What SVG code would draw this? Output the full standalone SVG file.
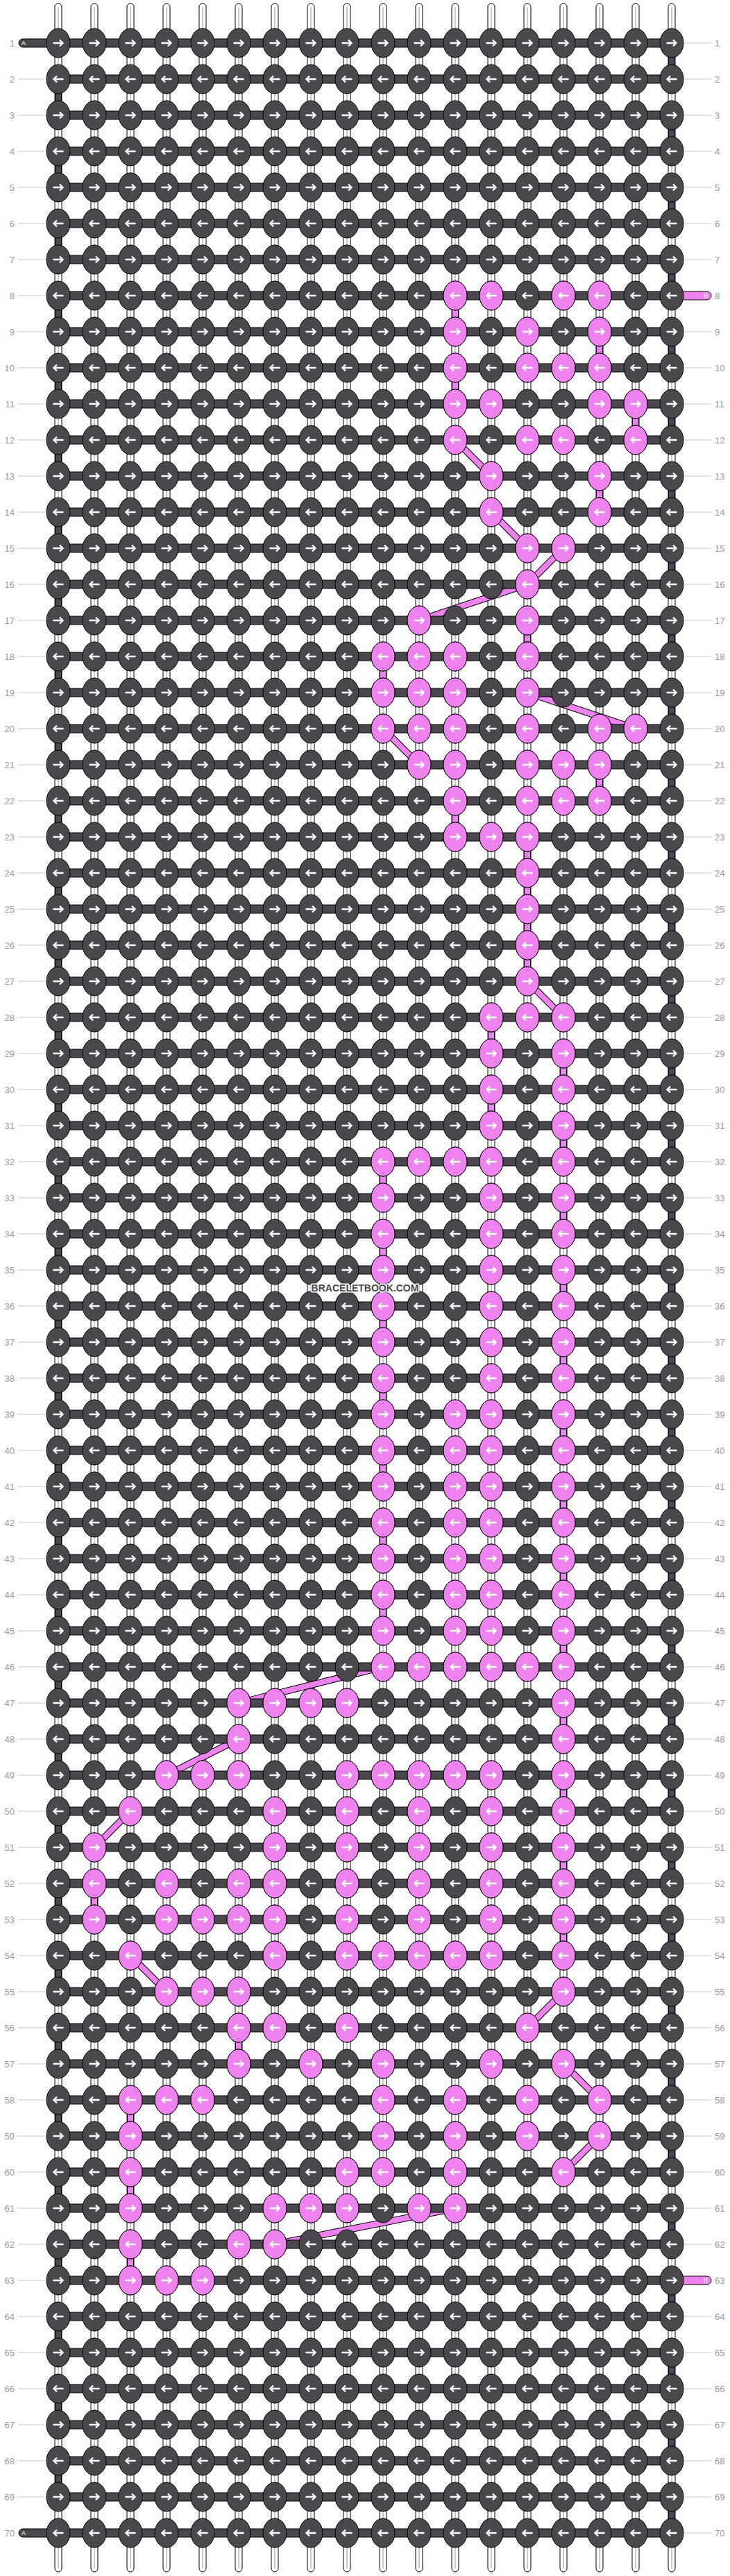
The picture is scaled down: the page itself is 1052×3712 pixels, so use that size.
<svg xmlns="http://www.w3.org/2000/svg" width="1052" height="3712" viewBox="0 0 1052 3712">
<style>
.d{fill:#4b484d;stroke:#000;stroke-width:1}
.p{fill:#ee82ee;stroke:#000;stroke-width:1}
.a{fill:none;stroke:#fff;stroke-width:2.4}
.n{font-family:"Liberation Sans",Arial,sans-serif;font-size:13px;fill:#999}
.ln{fill:none;stroke:#c4c4c4;stroke-width:1}
.t{font-family:"Liberation Sans",Arial,sans-serif;font-size:9px;fill:#fff}
.wm{font-family:"Liberation Sans",Arial,sans-serif;font-weight:bold;font-size:14px;fill:#4a4a4a;stroke:#fff;stroke-width:3;paint-order:stroke;stroke-linejoin:round}
</style>
<defs>
<path id="ar" class="a" d="M-7.5 0H6.5M2 -4.5L6.5 0L2 4.5"/>
<path id="al" class="a" d="M7.5 0H-6.5M-2 -4.5L-6.5 0L-2 4.5"/>
<g id="kr"><ellipse class="d" rx="17" ry="21"/><use href="#ar"/></g>
<g id="kl"><ellipse class="d" rx="17" ry="21"/><use href="#al"/></g>
<g id="pr"><ellipse class="p" rx="17" ry="21"/><use href="#ar"/></g>
<g id="pl"><ellipse class="p" rx="17" ry="21"/><use href="#al"/></g>
<g id="RR"><rect class="d" x="84" y="-6" width="884" height="12"/><use href="#kr" x="84"/><use href="#kr" x="136"/><use href="#kr" x="188"/><use href="#kr" x="240"/><use href="#kr" x="292"/><use href="#kr" x="344"/><use href="#kr" x="396"/><use href="#kr" x="448"/><use href="#kr" x="500"/><use href="#kr" x="552"/><use href="#kr" x="604"/><use href="#kr" x="656"/><use href="#kr" x="708"/><use href="#kr" x="760"/><use href="#kr" x="812"/><use href="#kr" x="864"/><use href="#kr" x="916"/><use href="#kr" x="968"/></g>
<g id="RL"><rect class="d" x="84" y="-6" width="884" height="12"/><use href="#kl" x="84"/><use href="#kl" x="136"/><use href="#kl" x="188"/><use href="#kl" x="240"/><use href="#kl" x="292"/><use href="#kl" x="344"/><use href="#kl" x="396"/><use href="#kl" x="448"/><use href="#kl" x="500"/><use href="#kl" x="552"/><use href="#kl" x="604"/><use href="#kl" x="656"/><use href="#kl" x="708"/><use href="#kl" x="760"/><use href="#kl" x="812"/><use href="#kl" x="864"/><use href="#kl" x="916"/><use href="#kl" x="968"/></g>
<g id="tube"><rect x="-5" y="5" width="10" height="3701" rx="5" fill="#fff" stroke="#000"/><path d="M0 10V3701" stroke="#c8c8c8" stroke-width="2"/></g>
<path id="pv" fill="none" d="M656 426v52M864 478v52M656 530v52M916 582v52M864 686v52M760 894v52M552 946v52M864 1102v52M656 1154v52M760 1206v208M708 1466v52M812 1518v52M708 1570v52M812 1622v52M552 1674v52M812 1726v52M552 1778v52M812 1830v52M552 1882v52M812 1934v52M552 1986v52M812 2038v52M552 2090v52M812 2142v52M552 2194v52M812 2246v52M552 2298v52M812 2350v52M812 2454v52M812 2558v52M812 2662v52M136 2714v52M812 2766v52M344 2922v52M188 3026v52M188 3130v52M188 3234v52"/>
<path id="pd" fill="none" d="M656 634L708 686M708 738L760 790M812 790L760 842M760 842L604 894M760 998L916 1050M552 1050L604 1102M760 1414L812 1466M552 2402L344 2454M344 2506L240 2558M188 2610L136 2662M188 2818L240 2870M812 2870L760 2922M812 2974L864 3026M864 3078L812 3130M656 3182L396 3234"/>
</defs>
<rect width="1052" height="3712" fill="#fff"/>
<g id="label-lines" class="ln">
<path d="M26 114h39M26 166h39M26 218h39M26 270h39M26 322h39M26 374h39M26 426h39M26 478h39M26 530h39M26 582h39M26 634h39M26 686h39M26 738h39M26 790h39M26 842h39M26 894h39M26 946h39M26 998h39M26 1050h39M26 1102h39M26 1154h39M26 1206h39M26 1258h39M26 1310h39M26 1362h39M26 1414h39M26 1466h39M26 1518h39M26 1570h39M26 1622h39M26 1674h39M26 1726h39M26 1778h39M26 1830h39M26 1882h39M26 1934h39M26 1986h39M26 2038h39M26 2090h39M26 2142h39M26 2194h39M26 2246h39M26 2298h39M26 2350h39M26 2402h39M26 2454h39M26 2506h39M26 2558h39M26 2610h39M26 2662h39M26 2714h39M26 2766h39M26 2818h39M26 2870h39M26 2922h39M26 2974h39M26 3026h39M26 3078h39M26 3130h39M26 3182h39M26 3234h39M26 3286h39M26 3338h39M26 3390h39M26 3442h39M26 3494h39M26 3546h39M26 3598h39"/>
<path d="M987 62h38M987 114h38M987 166h38M987 218h38M987 270h38M987 322h38M987 374h38M987 478h38M987 530h38M987 582h38M987 634h38M987 686h38M987 738h38M987 790h38M987 842h38M987 894h38M987 946h38M987 998h38M987 1050h38M987 1102h38M987 1154h38M987 1206h38M987 1258h38M987 1310h38M987 1362h38M987 1414h38M987 1466h38M987 1518h38M987 1570h38M987 1622h38M987 1674h38M987 1726h38M987 1778h38M987 1830h38M987 1882h38M987 1934h38M987 1986h38M987 2038h38M987 2090h38M987 2142h38M987 2194h38M987 2246h38M987 2298h38M987 2350h38M987 2402h38M987 2454h38M987 2506h38M987 2558h38M987 2610h38M987 2662h38M987 2714h38M987 2766h38M987 2818h38M987 2870h38M987 2922h38M987 2974h38M987 3026h38M987 3078h38M987 3130h38M987 3182h38M987 3234h38M987 3338h38M987 3390h38M987 3442h38M987 3494h38M987 3546h38M987 3598h38M987 3650h38"/>
</g>
<g id="labels-left" class="n" text-anchor="end" transform="translate(0 4.5)">
<text x="21" y="62">1</text><text x="21" y="114">2</text><text x="21" y="166">3</text><text x="21" y="218">4</text><text x="21" y="270">5</text><text x="21" y="322">6</text><text x="21" y="374">7</text><text x="21" y="426">8</text><text x="21" y="478">9</text><text x="21" y="530">10</text>
<text x="21" y="582">11</text><text x="21" y="634">12</text><text x="21" y="686">13</text><text x="21" y="738">14</text><text x="21" y="790">15</text><text x="21" y="842">16</text><text x="21" y="894">17</text><text x="21" y="946">18</text><text x="21" y="998">19</text><text x="21" y="1050">20</text>
<text x="21" y="1102">21</text><text x="21" y="1154">22</text><text x="21" y="1206">23</text><text x="21" y="1258">24</text><text x="21" y="1310">25</text><text x="21" y="1362">26</text><text x="21" y="1414">27</text><text x="21" y="1466">28</text><text x="21" y="1518">29</text><text x="21" y="1570">30</text>
<text x="21" y="1622">31</text><text x="21" y="1674">32</text><text x="21" y="1726">33</text><text x="21" y="1778">34</text><text x="21" y="1830">35</text><text x="21" y="1882">36</text><text x="21" y="1934">37</text><text x="21" y="1986">38</text><text x="21" y="2038">39</text><text x="21" y="2090">40</text>
<text x="21" y="2142">41</text><text x="21" y="2194">42</text><text x="21" y="2246">43</text><text x="21" y="2298">44</text><text x="21" y="2350">45</text><text x="21" y="2402">46</text><text x="21" y="2454">47</text><text x="21" y="2506">48</text><text x="21" y="2558">49</text><text x="21" y="2610">50</text>
<text x="21" y="2662">51</text><text x="21" y="2714">52</text><text x="21" y="2766">53</text><text x="21" y="2818">54</text><text x="21" y="2870">55</text><text x="21" y="2922">56</text><text x="21" y="2974">57</text><text x="21" y="3026">58</text><text x="21" y="3078">59</text><text x="21" y="3130">60</text>
<text x="21" y="3182">61</text><text x="21" y="3234">62</text><text x="21" y="3286">63</text><text x="21" y="3338">64</text><text x="21" y="3390">65</text><text x="21" y="3442">66</text><text x="21" y="3494">67</text><text x="21" y="3546">68</text><text x="21" y="3598">69</text><text x="21" y="3650">70</text>
</g>
<g id="labels-right" class="n" transform="translate(0 4.5)">
<text x="1030" y="62">1</text><text x="1030" y="114">2</text><text x="1030" y="166">3</text><text x="1030" y="218">4</text><text x="1030" y="270">5</text><text x="1030" y="322">6</text><text x="1030" y="374">7</text><text x="1030" y="426">8</text><text x="1030" y="478">9</text><text x="1030" y="530">10</text>
<text x="1030" y="582">11</text><text x="1030" y="634">12</text><text x="1030" y="686">13</text><text x="1030" y="738">14</text><text x="1030" y="790">15</text><text x="1030" y="842">16</text><text x="1030" y="894">17</text><text x="1030" y="946">18</text><text x="1030" y="998">19</text><text x="1030" y="1050">20</text>
<text x="1030" y="1102">21</text><text x="1030" y="1154">22</text><text x="1030" y="1206">23</text><text x="1030" y="1258">24</text><text x="1030" y="1310">25</text><text x="1030" y="1362">26</text><text x="1030" y="1414">27</text><text x="1030" y="1466">28</text><text x="1030" y="1518">29</text><text x="1030" y="1570">30</text>
<text x="1030" y="1622">31</text><text x="1030" y="1674">32</text><text x="1030" y="1726">33</text><text x="1030" y="1778">34</text><text x="1030" y="1830">35</text><text x="1030" y="1882">36</text><text x="1030" y="1934">37</text><text x="1030" y="1986">38</text><text x="1030" y="2038">39</text><text x="1030" y="2090">40</text>
<text x="1030" y="2142">41</text><text x="1030" y="2194">42</text><text x="1030" y="2246">43</text><text x="1030" y="2298">44</text><text x="1030" y="2350">45</text><text x="1030" y="2402">46</text><text x="1030" y="2454">47</text><text x="1030" y="2506">48</text><text x="1030" y="2558">49</text><text x="1030" y="2610">50</text>
<text x="1030" y="2662">51</text><text x="1030" y="2714">52</text><text x="1030" y="2766">53</text><text x="1030" y="2818">54</text><text x="1030" y="2870">55</text><text x="1030" y="2922">56</text><text x="1030" y="2974">57</text><text x="1030" y="3026">58</text><text x="1030" y="3078">59</text><text x="1030" y="3130">60</text>
<text x="1030" y="3182">61</text><text x="1030" y="3234">62</text><text x="1030" y="3286">63</text><text x="1030" y="3338">64</text><text x="1030" y="3390">65</text><text x="1030" y="3442">66</text><text x="1030" y="3494">67</text><text x="1030" y="3546">68</text><text x="1030" y="3598">69</text><text x="1030" y="3650">70</text>
</g>
<g id="warp">
<use href="#tube" x="84"/><use href="#tube" x="136"/><use href="#tube" x="188"/><use href="#tube" x="240"/><use href="#tube" x="292"/><use href="#tube" x="344"/><use href="#tube" x="396"/><use href="#tube" x="448"/><use href="#tube" x="500"/><use href="#tube" x="552"/><use href="#tube" x="604"/><use href="#tube" x="656"/><use href="#tube" x="708"/><use href="#tube" x="760"/><use href="#tube" x="812"/><use href="#tube" x="864"/><use href="#tube" x="916"/><use href="#tube" x="968"/>
</g>
<g id="connectors" fill="none">
<g stroke-dasharray="52 52">
<path d="M84 114V3598" stroke="#000" stroke-width="10"/><path d="M84 114V3598" stroke="#4b484d" stroke-width="8"/>
<path d="M968 62V3650" stroke="#000" stroke-width="10"/><path d="M968 62V3650" stroke="#4b484d" stroke-width="8"/>
</g>
<use href="#pv" stroke="#000" stroke-width="10"/><use href="#pv" stroke="#ee82ee" stroke-width="8"/>
<use href="#pd" stroke="#000" stroke-width="10"/><use href="#pd" stroke="#ee82ee" stroke-width="8"/>
</g>
<g id="thread-ends">
<g id="endA1"><rect class="d" x="27" y="56" width="57" height="12" rx="6"/><text class="t" x="31" y="65.3">A</text></g>
<g id="endA70"><rect class="d" x="27" y="3644" width="57" height="12" rx="6"/><text class="t" x="31" y="3653.3">A</text></g>
<g id="endB8"><rect class="p" x="968" y="420" width="57" height="12" rx="6"/><text class="t" x="1014" y="429.3">B</text></g>
<g id="endB63"><rect class="p" x="968" y="3280" width="57" height="12" rx="6"/><text class="t" x="1014" y="3289.3">B</text></g>
</g>
<g id="rows">
<use id="row1" href="#RR" y="62"/><use id="row2" href="#RL" y="114"/><use id="row3" href="#RR" y="166"/><use id="row4" href="#RL" y="218"/><use id="row5" href="#RR" y="270"/><use id="row6" href="#RL" y="322"/><use id="row7" href="#RR" y="374"/><use id="row8" href="#RL" y="426"/><use id="row9" href="#RR" y="478"/><use id="row10" href="#RL" y="530"/>
<use id="row11" href="#RR" y="582"/><use id="row12" href="#RL" y="634"/><use id="row13" href="#RR" y="686"/><use id="row14" href="#RL" y="738"/><use id="row15" href="#RR" y="790"/><use id="row16" href="#RL" y="842"/><use id="row17" href="#RR" y="894"/><use id="row18" href="#RL" y="946"/><use id="row19" href="#RR" y="998"/><use id="row20" href="#RL" y="1050"/>
<use id="row21" href="#RR" y="1102"/><use id="row22" href="#RL" y="1154"/><use id="row23" href="#RR" y="1206"/><use id="row24" href="#RL" y="1258"/><use id="row25" href="#RR" y="1310"/><use id="row26" href="#RL" y="1362"/><use id="row27" href="#RR" y="1414"/><use id="row28" href="#RL" y="1466"/><use id="row29" href="#RR" y="1518"/><use id="row30" href="#RL" y="1570"/>
<use id="row31" href="#RR" y="1622"/><use id="row32" href="#RL" y="1674"/><use id="row33" href="#RR" y="1726"/><use id="row34" href="#RL" y="1778"/><use id="row35" href="#RR" y="1830"/><use id="row36" href="#RL" y="1882"/><use id="row37" href="#RR" y="1934"/><use id="row38" href="#RL" y="1986"/><use id="row39" href="#RR" y="2038"/><use id="row40" href="#RL" y="2090"/>
<use id="row41" href="#RR" y="2142"/><use id="row42" href="#RL" y="2194"/><use id="row43" href="#RR" y="2246"/><use id="row44" href="#RL" y="2298"/><use id="row45" href="#RR" y="2350"/><use id="row46" href="#RL" y="2402"/><use id="row47" href="#RR" y="2454"/><use id="row48" href="#RL" y="2506"/><use id="row49" href="#RR" y="2558"/><use id="row50" href="#RL" y="2610"/>
<use id="row51" href="#RR" y="2662"/><use id="row52" href="#RL" y="2714"/><use id="row53" href="#RR" y="2766"/><use id="row54" href="#RL" y="2818"/><use id="row55" href="#RR" y="2870"/><use id="row56" href="#RL" y="2922"/><use id="row57" href="#RR" y="2974"/><use id="row58" href="#RL" y="3026"/><use id="row59" href="#RR" y="3078"/><use id="row60" href="#RL" y="3130"/>
<use id="row61" href="#RR" y="3182"/><use id="row62" href="#RL" y="3234"/><use id="row63" href="#RR" y="3286"/><use id="row64" href="#RL" y="3338"/><use id="row65" href="#RR" y="3390"/><use id="row66" href="#RL" y="3442"/><use id="row67" href="#RR" y="3494"/><use id="row68" href="#RL" y="3546"/><use id="row69" href="#RR" y="3598"/><use id="row70" href="#RL" y="3650"/>
</g>
<g id="pink-knots">
<use id="k8_11" href="#pl" x="656" y="426"/><use id="k8_12" href="#pl" x="708" y="426"/><use id="k8_14" href="#pl" x="812" y="426"/><use id="k8_15" href="#pl" x="864" y="426"/>
<use id="k9_11" href="#pr" x="656" y="478"/><use id="k9_13" href="#pr" x="760" y="478"/><use id="k9_15" href="#pr" x="864" y="478"/>
<use id="k10_11" href="#pl" x="656" y="530"/><use id="k10_13" href="#pl" x="760" y="530"/><use id="k10_14" href="#pl" x="812" y="530"/><use id="k10_15" href="#pl" x="864" y="530"/>
<use id="k11_11" href="#pr" x="656" y="582"/><use id="k11_12" href="#pr" x="708" y="582"/><use id="k11_15" href="#pr" x="864" y="582"/><use id="k11_16" href="#pr" x="916" y="582"/>
<use id="k12_11" href="#pl" x="656" y="634"/><use id="k12_13" href="#pl" x="760" y="634"/><use id="k12_14" href="#pl" x="812" y="634"/><use id="k12_16" href="#pl" x="916" y="634"/>
<use id="k13_12" href="#pr" x="708" y="686"/><use id="k13_15" href="#pr" x="864" y="686"/>
<use id="k14_12" href="#pl" x="708" y="738"/><use id="k14_15" href="#pl" x="864" y="738"/>
<use id="k15_13" href="#pr" x="760" y="790"/><use id="k15_14" href="#pr" x="812" y="790"/>
<use id="k16_13" href="#pl" x="760" y="842"/>
<use id="k17_10" href="#pr" x="604" y="894"/><use id="k17_13" href="#pr" x="760" y="894"/>
<use id="k18_9" href="#pl" x="552" y="946"/><use id="k18_10" href="#pl" x="604" y="946"/><use id="k18_11" href="#pl" x="656" y="946"/><use id="k18_13" href="#pl" x="760" y="946"/>
<use id="k19_9" href="#pr" x="552" y="998"/><use id="k19_10" href="#pr" x="604" y="998"/><use id="k19_11" href="#pr" x="656" y="998"/><use id="k19_13" href="#pr" x="760" y="998"/>
<use id="k20_9" href="#pl" x="552" y="1050"/><use id="k20_10" href="#pl" x="604" y="1050"/><use id="k20_11" href="#pl" x="656" y="1050"/><use id="k20_13" href="#pl" x="760" y="1050"/><use id="k20_15" href="#pl" x="864" y="1050"/><use id="k20_16" href="#pl" x="916" y="1050"/>
<use id="k21_10" href="#pr" x="604" y="1102"/><use id="k21_11" href="#pr" x="656" y="1102"/><use id="k21_13" href="#pr" x="760" y="1102"/><use id="k21_14" href="#pr" x="812" y="1102"/><use id="k21_15" href="#pr" x="864" y="1102"/>
<use id="k22_11" href="#pl" x="656" y="1154"/><use id="k22_13" href="#pl" x="760" y="1154"/><use id="k22_14" href="#pl" x="812" y="1154"/><use id="k22_15" href="#pl" x="864" y="1154"/>
<use id="k23_11" href="#pr" x="656" y="1206"/><use id="k23_12" href="#pr" x="708" y="1206"/><use id="k23_13" href="#pr" x="760" y="1206"/>
<use id="k24_13" href="#pl" x="760" y="1258"/><use id="k25_13" href="#pr" x="760" y="1310"/><use id="k26_13" href="#pl" x="760" y="1362"/><use id="k27_13" href="#pr" x="760" y="1414"/>
<use id="k28_12" href="#pl" x="708" y="1466"/><use id="k28_13" href="#pl" x="760" y="1466"/><use id="k28_14" href="#pl" x="812" y="1466"/>
<use id="k29_12" href="#pr" x="708" y="1518"/><use id="k29_14" href="#pr" x="812" y="1518"/>
<use id="k30_12" href="#pl" x="708" y="1570"/><use id="k30_14" href="#pl" x="812" y="1570"/>
<use id="k31_12" href="#pr" x="708" y="1622"/><use id="k31_14" href="#pr" x="812" y="1622"/>
<use id="k32_9" href="#pl" x="552" y="1674"/><use id="k32_10" href="#pl" x="604" y="1674"/><use id="k32_11" href="#pl" x="656" y="1674"/><use id="k32_12" href="#pl" x="708" y="1674"/><use id="k32_14" href="#pl" x="812" y="1674"/>
<use id="k33_9" href="#pr" x="552" y="1726"/><use id="k33_12" href="#pr" x="708" y="1726"/><use id="k33_14" href="#pr" x="812" y="1726"/>
<use id="k34_9" href="#pl" x="552" y="1778"/><use id="k34_12" href="#pl" x="708" y="1778"/><use id="k34_14" href="#pl" x="812" y="1778"/>
<use id="k35_9" href="#pr" x="552" y="1830"/><use id="k35_12" href="#pr" x="708" y="1830"/><use id="k35_14" href="#pr" x="812" y="1830"/>
<use id="k36_9" href="#pl" x="552" y="1882"/><use id="k36_12" href="#pl" x="708" y="1882"/><use id="k36_14" href="#pl" x="812" y="1882"/>
<use id="k37_9" href="#pr" x="552" y="1934"/><use id="k37_12" href="#pr" x="708" y="1934"/><use id="k37_14" href="#pr" x="812" y="1934"/>
<use id="k38_9" href="#pl" x="552" y="1986"/><use id="k38_12" href="#pl" x="708" y="1986"/><use id="k38_14" href="#pl" x="812" y="1986"/>
<use id="k39_9" href="#pr" x="552" y="2038"/><use id="k39_11" href="#pr" x="656" y="2038"/><use id="k39_12" href="#pr" x="708" y="2038"/><use id="k39_14" href="#pr" x="812" y="2038"/>
<use id="k40_9" href="#pl" x="552" y="2090"/><use id="k40_11" href="#pl" x="656" y="2090"/><use id="k40_12" href="#pl" x="708" y="2090"/><use id="k40_14" href="#pl" x="812" y="2090"/>
<use id="k41_9" href="#pr" x="552" y="2142"/><use id="k41_11" href="#pr" x="656" y="2142"/><use id="k41_12" href="#pr" x="708" y="2142"/><use id="k41_14" href="#pr" x="812" y="2142"/>
<use id="k42_9" href="#pl" x="552" y="2194"/><use id="k42_11" href="#pl" x="656" y="2194"/><use id="k42_12" href="#pl" x="708" y="2194"/><use id="k42_14" href="#pl" x="812" y="2194"/>
<use id="k43_9" href="#pr" x="552" y="2246"/><use id="k43_11" href="#pr" x="656" y="2246"/><use id="k43_12" href="#pr" x="708" y="2246"/><use id="k43_14" href="#pr" x="812" y="2246"/>
<use id="k44_9" href="#pl" x="552" y="2298"/><use id="k44_11" href="#pl" x="656" y="2298"/><use id="k44_12" href="#pl" x="708" y="2298"/><use id="k44_14" href="#pl" x="812" y="2298"/>
<use id="k45_9" href="#pr" x="552" y="2350"/><use id="k45_11" href="#pr" x="656" y="2350"/><use id="k45_12" href="#pr" x="708" y="2350"/><use id="k45_14" href="#pr" x="812" y="2350"/>
<use id="k46_9" href="#pl" x="552" y="2402"/><use id="k46_10" href="#pl" x="604" y="2402"/><use id="k46_11" href="#pl" x="656" y="2402"/><use id="k46_12" href="#pl" x="708" y="2402"/><use id="k46_13" href="#pl" x="760" y="2402"/><use id="k46_14" href="#pl" x="812" y="2402"/>
<use id="k47_5" href="#pr" x="344" y="2454"/><use id="k47_6" href="#pr" x="396" y="2454"/><use id="k47_7" href="#pr" x="448" y="2454"/><use id="k47_8" href="#pr" x="500" y="2454"/><use id="k47_14" href="#pr" x="812" y="2454"/>
<use id="k48_5" href="#pl" x="344" y="2506"/><use id="k48_14" href="#pl" x="812" y="2506"/>
<use id="k49_3" href="#pr" x="240" y="2558"/><use id="k49_4" href="#pr" x="292" y="2558"/><use id="k49_5" href="#pr" x="344" y="2558"/><use id="k49_8" href="#pr" x="500" y="2558"/><use id="k49_9" href="#pr" x="552" y="2558"/><use id="k49_10" href="#pr" x="604" y="2558"/><use id="k49_11" href="#pr" x="656" y="2558"/><use id="k49_12" href="#pr" x="708" y="2558"/><use id="k49_14" href="#pr" x="812" y="2558"/>
<use id="k50_2" href="#pl" x="188" y="2610"/><use id="k50_6" href="#pl" x="396" y="2610"/><use id="k50_8" href="#pl" x="500" y="2610"/><use id="k50_10" href="#pl" x="604" y="2610"/><use id="k50_12" href="#pl" x="708" y="2610"/><use id="k50_14" href="#pl" x="812" y="2610"/>
<use id="k51_1" href="#pr" x="136" y="2662"/><use id="k51_6" href="#pr" x="396" y="2662"/><use id="k51_8" href="#pr" x="500" y="2662"/><use id="k51_10" href="#pr" x="604" y="2662"/><use id="k51_12" href="#pr" x="708" y="2662"/><use id="k51_14" href="#pr" x="812" y="2662"/>
<use id="k52_1" href="#pl" x="136" y="2714"/><use id="k52_3" href="#pl" x="240" y="2714"/><use id="k52_5" href="#pl" x="344" y="2714"/><use id="k52_6" href="#pl" x="396" y="2714"/><use id="k52_8" href="#pl" x="500" y="2714"/><use id="k52_10" href="#pl" x="604" y="2714"/><use id="k52_12" href="#pl" x="708" y="2714"/><use id="k52_14" href="#pl" x="812" y="2714"/>
<use id="k53_1" href="#pr" x="136" y="2766"/><use id="k53_3" href="#pr" x="240" y="2766"/><use id="k53_4" href="#pr" x="292" y="2766"/><use id="k53_5" href="#pr" x="344" y="2766"/><use id="k53_6" href="#pr" x="396" y="2766"/><use id="k53_8" href="#pr" x="500" y="2766"/><use id="k53_10" href="#pr" x="604" y="2766"/><use id="k53_12" href="#pr" x="708" y="2766"/><use id="k53_14" href="#pr" x="812" y="2766"/>
<use id="k54_2" href="#pl" x="188" y="2818"/><use id="k54_6" href="#pl" x="396" y="2818"/><use id="k54_8" href="#pl" x="500" y="2818"/><use id="k54_9" href="#pl" x="552" y="2818"/><use id="k54_10" href="#pl" x="604" y="2818"/><use id="k54_11" href="#pl" x="656" y="2818"/><use id="k54_12" href="#pl" x="708" y="2818"/><use id="k54_14" href="#pl" x="812" y="2818"/>
<use id="k55_3" href="#pr" x="240" y="2870"/><use id="k55_4" href="#pr" x="292" y="2870"/><use id="k55_5" href="#pr" x="344" y="2870"/><use id="k55_14" href="#pr" x="812" y="2870"/>
<use id="k56_5" href="#pl" x="344" y="2922"/><use id="k56_6" href="#pl" x="396" y="2922"/><use id="k56_8" href="#pl" x="500" y="2922"/><use id="k56_13" href="#pl" x="760" y="2922"/>
<use id="k57_5" href="#pr" x="344" y="2974"/><use id="k57_7" href="#pr" x="448" y="2974"/><use id="k57_9" href="#pr" x="552" y="2974"/><use id="k57_12" href="#pr" x="708" y="2974"/><use id="k57_14" href="#pr" x="812" y="2974"/>
<use id="k58_2" href="#pl" x="188" y="3026"/><use id="k58_3" href="#pl" x="240" y="3026"/><use id="k58_4" href="#pl" x="292" y="3026"/><use id="k58_9" href="#pl" x="552" y="3026"/><use id="k58_11" href="#pl" x="656" y="3026"/><use id="k58_13" href="#pl" x="760" y="3026"/><use id="k58_15" href="#pl" x="864" y="3026"/>
<use id="k59_2" href="#pr" x="188" y="3078"/><use id="k59_9" href="#pr" x="552" y="3078"/><use id="k59_11" href="#pr" x="656" y="3078"/><use id="k59_13" href="#pr" x="760" y="3078"/><use id="k59_15" href="#pr" x="864" y="3078"/>
<use id="k60_2" href="#pl" x="188" y="3130"/><use id="k60_8" href="#pl" x="500" y="3130"/><use id="k60_9" href="#pl" x="552" y="3130"/><use id="k60_11" href="#pl" x="656" y="3130"/><use id="k60_14" href="#pl" x="812" y="3130"/>
<use id="k61_2" href="#pr" x="188" y="3182"/><use id="k61_6" href="#pr" x="396" y="3182"/><use id="k61_7" href="#pr" x="448" y="3182"/><use id="k61_8" href="#pr" x="500" y="3182"/><use id="k61_10" href="#pr" x="604" y="3182"/><use id="k61_11" href="#pr" x="656" y="3182"/>
<use id="k62_2" href="#pl" x="188" y="3234"/><use id="k62_5" href="#pl" x="344" y="3234"/><use id="k62_6" href="#pl" x="396" y="3234"/>
<use id="k63_2" href="#pr" x="188" y="3286"/><use id="k63_3" href="#pr" x="240" y="3286"/><use id="k63_4" href="#pr" x="292" y="3286"/>
</g>
<text id="watermark" class="wm" x="526" y="1861" text-anchor="middle">BRACELETBOOK.COM</text>
</svg>
